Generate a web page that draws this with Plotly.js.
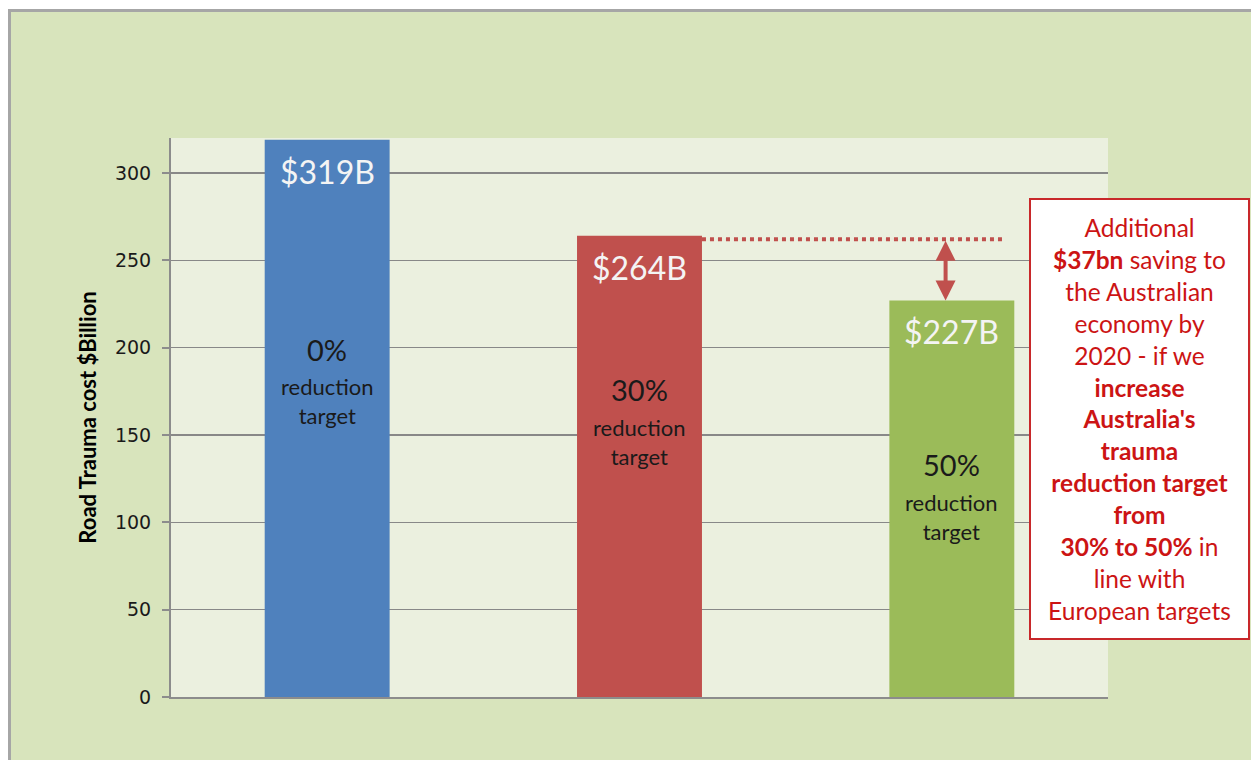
<!DOCTYPE html>
<html>
<head>
<meta charset="utf-8">
<script src="https://cdn.plot.ly/plotly-3.0.1.min.js"></script>
<style>
  html, body { margin: 0; padding: 0; background: #ffffff; width: 1251px; height: 760px; overflow: hidden; }
  #frame { position: absolute; left: 8px; top: 9px; width: 1243px; height: 751px;
           border-left: 3px solid #a6a6a6; border-top: 3px solid #a6a6a6; box-sizing: border-box; background: #d8e4bc; }
  #chart { position: absolute; left: 11px; top: 12px; width: 1240px; height: 748px; }
</style>
</head>
<body>
<div id="frame"></div>
<div id="chart"></div>
<script>
// ---- data ----
const categories = ['0%', '30%', '50%'];
const costs = [319, 264, 227];
const valueLabels = ['$319B', '$264B', '$227B'];
const targetLabels = ['0%', '30%', '50%'];
const targetSubLabel = 'reduction<br>target';
const barColors = ['#4f81bd', '#c0504d', '#9bbb59'];
const yTicks = [0, 50, 100, 150, 200, 250, 300];
const yTitle = 'Road Trauma cost $Billion';
const noteLines = [
  'Additional',
  '<b>$37bn</b> saving to',
  'the Australian',
  'economy by',
  '2020 - if we',
  '<b>increase</b>',
  '<b>Australia\'s</b>',
  '<b>trauma</b>',
  '<b>reduction target</b>',
  '<b>from</b>',
  '<b>30% to 50%</b> in',
  'line with',
  'European targets'
];

// layout-only placement of the descriptive text (y in axis units)
const targetTextY = [199, 176, 133];

const FONT = 'Lato, "Open Sans", sans-serif';

const trace = {
  type: 'bar',
  x: categories,
  y: costs,
  marker: { color: barColors, line: { width: 0 } },
  hoverinfo: 'skip'
};

const annotations = [];
categories.forEach((c, i) => {
  annotations.push({
    x: c, y: costs[i], xref: 'x', yref: 'y',
    text: valueLabels[i], showarrow: false,
    yanchor: 'top', yshift: -10,
    font: { family: FONT, size: 32, color: '#f4f4f4' }
  });
  annotations.push({
    x: c, y: targetTextY[i], xref: 'x', yref: 'y',
    text: targetLabels[i], showarrow: false,
    yanchor: 'middle',
    font: { family: FONT, size: 29, color: '#1a1a1a' }
  });
  annotations.push({
    x: c, y: targetTextY[i], xref: 'x', yref: 'y',
    text: targetSubLabel, showarrow: false,
    yanchor: 'middle', yshift: -52,
    font: { family: FONT, size: 22, color: '#1a1a1a' }
  });
});

// double-headed arrow between the 30% and 50% totals
annotations.push({
  x: 1.98, y: costs[2], xref: 'x', yref: 'y',
  ax: 1.98, ay: costs[1] - 2, axref: 'x', ayref: 'y',
  text: '', showarrow: true,
  arrowhead: 2, startarrowhead: 2, arrowside: 'end+start',
  arrowsize: 1, arrowwidth: 4, arrowcolor: '#c0504d'
});

// note box
annotations.push({
  x: 0.9157, y: 0.8927, xref: 'paper', yref: 'paper',
  xanchor: 'left', yanchor: 'top',
  text: noteLines.join('<br>'), showarrow: false,
  align: 'center', valign: 'middle',
  width: 209, height: 430,
  bgcolor: '#ffffff', bordercolor: '#c8282a', borderwidth: 2, borderpad: 4,
  font: { family: FONT, size: 24.5, color: '#cc1414' }
});

const layout = {
  width: 1240, height: 748,
  margin: { l: 160, r: 143, t: 126, b: 63 },
  paper_bgcolor: '#d8e4bc',
  plot_bgcolor: '#ebf0df',
  showlegend: false,
  bargap: 0.6,
  xaxis: {
    type: 'category',
    showticklabels: false,
    showgrid: false,
    showline: true, linecolor: '#8c8c8c', linewidth: 2,
    ticks: '', zeroline: false, fixedrange: true
  },
  yaxis: {
    range: [0, 320],
    tickvals: yTicks,
    ticks: 'outside', ticklen: 7, tickcolor: '#8c8c8c', tickwidth: 2,
    ticklabelstandoff: 7,
    showgrid: true, gridcolor: '#888888', gridwidth: 1.5,
    showline: true, linecolor: '#8c8c8c', linewidth: 2,
    zeroline: false,
    tickfont: { family: 'DejaVu Sans, sans-serif', size: 19, color: '#1a1a1a' },
    title: { text: '<b>' + yTitle + '</b>', standoff: 12,
             font: { family: FONT, size: 22, color: '#000000' } },
    fixedrange: true
  },
  shapes: [
    {
      type: 'line', xref: 'x', yref: 'y',
      x0: 1.2, x1: 2.17, y0: costs[1] - 2, y1: costs[1] - 2,
      line: { color: '#c0504d', width: 4, dash: 'dot' }
    }
  ],
  annotations: annotations
};

Plotly.newPlot('chart', [trace], layout, { displayModeBar: false, staticPlot: true });
</script>
</body>
</html>
